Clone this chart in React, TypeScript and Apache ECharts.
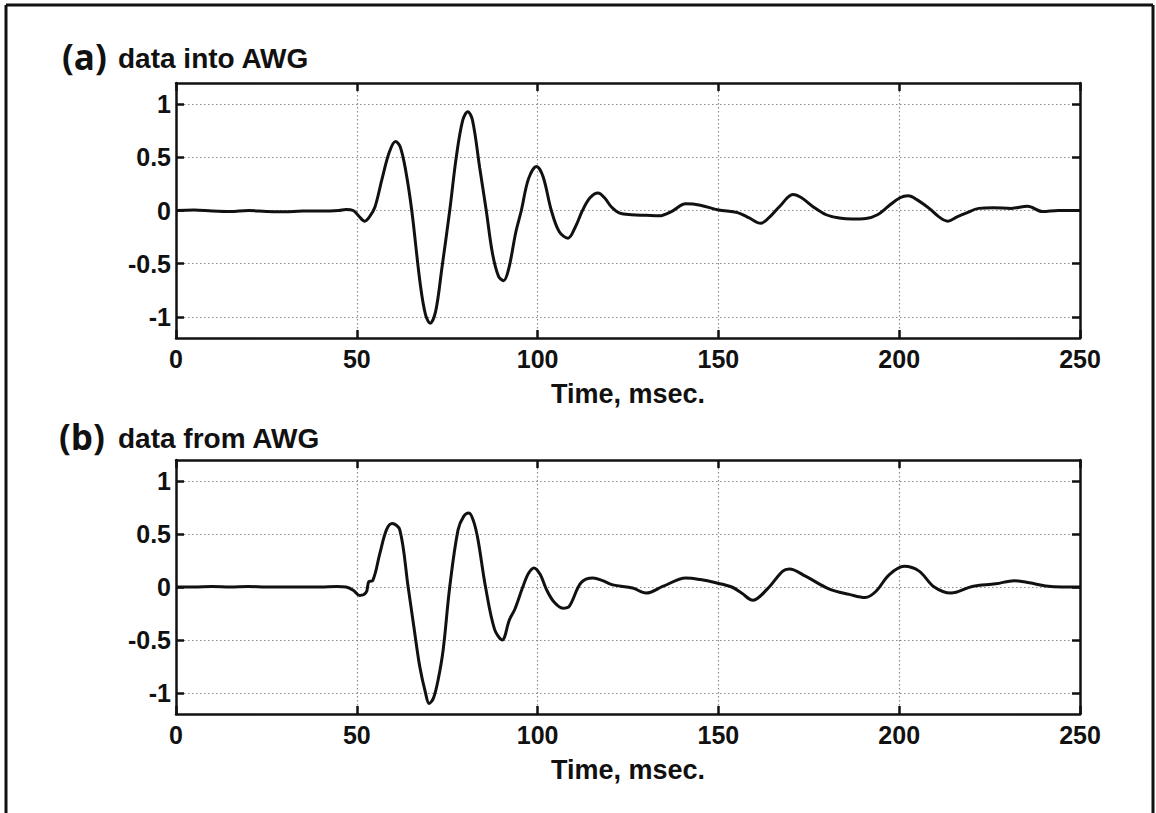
import React, { useEffect, useRef } from "react";
import * as echarts from "echarts";

const X_TICKS = [0, 50, 100, 150, 200, 250];
const Y_TICKS = [-1, -0.5, 0, 0.5, 1];
const X_AXIS_NAME = "Time, msec.";
const PANEL_LETTERS = ["(a)", "(b)"];
const PANEL_TITLES = ["data into AWG", "data from AWG"];

// Panel (a): data into AWG
const timeA = [0, 5, 10, 15, 20, 25, 30, 35, 40, 45, 47, 49, 50.5, 52.2, 53.5, 55, 57, 59, 60.7, 62, 63.5, 65.2, 67.5, 69, 70.3, 71.8, 73.5, 75.7, 77.5, 79.3, 80.7, 82, 84, 85.8, 87.5, 89.2, 90.6, 92, 94, 95.5, 97.5, 99.7, 101.5, 103.8, 106, 108.4, 110.5, 112.4, 114.5, 116.7, 118.5, 120.5, 122.7, 126, 130, 133.7, 137, 141, 145, 150, 155.3, 158.5, 161.7, 164.5, 167, 170.6, 173, 176, 179.8, 183.4, 187, 190.8, 194, 197, 200.2, 202.5, 205, 208.3, 211, 213.4, 216, 218.5, 222, 226, 231, 235.5, 239.6, 244, 250];
const valueA = [0, 0.005, -0.005, -0.01, 0, -0.01, -0.012, -0.005, -0.005, 0, 0.01, 0, -0.05, -0.1, -0.06, 0.03, 0.3, 0.55, 0.65, 0.6, 0.38, 0, -0.68, -0.98, -1.06, -0.95, -0.55, 0, 0.5, 0.85, 0.93, 0.85, 0.4, 0, -0.4, -0.62, -0.66, -0.55, -0.2, 0, 0.3, 0.415, 0.32, 0, -0.2, -0.26, -0.15, 0, 0.12, 0.165, 0.12, 0.03, -0.025, -0.04, -0.045, -0.05, -0.01, 0.063, 0.05, 0.005, -0.02, -0.07, -0.12, -0.05, 0.04, 0.15, 0.12, 0.04, -0.04, -0.07, -0.08, -0.075, -0.04, 0.04, 0.12, 0.14, 0.1, 0.02, -0.06, -0.1, -0.06, -0.025, 0.02, 0.025, 0.02, 0.04, -0.01, 0, 0];

// Panel (b): data from AWG
const timeB = [0, 5, 10, 15, 20, 25, 30, 35, 40, 44.5, 47, 49, 50.8, 52.6, 53.3, 54.4, 56.4, 58.2, 59.8, 61.9, 64.2, 65.8, 67.4, 69, 70, 71.2, 72.5, 73.9, 75.7, 78, 79.6, 81, 82.3, 83.5, 85.6, 88.1, 90.2, 92.2, 93.7, 95.9, 97.5, 99, 100.7, 102.4, 104.5, 107, 108.8, 112, 115.3, 118, 120.8, 126.3, 130, 134.6, 141, 145, 149.3, 153.7, 156.5, 159.5, 163.5, 167.8, 169.6, 174.2, 180.7, 186.2, 190.6, 193.6, 197.2, 201.4, 205.5, 209.7, 214.3, 220.2, 226.7, 231.8, 236, 240.5, 245, 250];
const valueB = [0, 0, 0.005, 0, 0.005, 0, 0, 0, 0, 0.005, 0, -0.03, -0.08, -0.05, 0.05, 0.06, 0.32, 0.54, 0.6, 0.54, 0, -0.38, -0.75, -1.0, -1.1, -1.05, -0.875, -0.59, 0, 0.54, 0.67, 0.7, 0.62, 0.45, 0, -0.4, -0.5, -0.31, -0.21, 0, 0.13, 0.18, 0.12, -0.02, -0.14, -0.2, -0.18, 0.04, 0.085, 0.06, 0.02, -0.01, -0.057, 0.005, 0.085, 0.07, 0.04, 0, -0.06, -0.125, -0.02, 0.15, 0.17, 0.1, -0.02, -0.07, -0.1, -0.04, 0.115, 0.195, 0.15, 0, -0.057, 0.005, 0.03, 0.06, 0.04, 0.01, 0, 0];

const INK = "#111111";
const LABEL_FONT = {
  fontFamily: "Liberation Sans",
  fontWeight: "bold" as const,
  fontSize: 25,
  color: INK,
};

export default function App() {
  const ref = useRef<HTMLDivElement>(null);

  useEffect(() => {
    const chart = echarts.init(ref.current!, null, { renderer: "svg" });
    const grids = [
      { left: 176, top: 83, width: 904, height: 255 },
      { left: 176, top: 460, width: 904, height: 254 },
    ];
    const xAxis: any[] = [];
    const yAxis: any[] = [];
    const axisLine = { show: true, onZero: false, lineStyle: { color: INK, width: 2.5 } };
    const tick = { show: true, inside: true, length: 8, lineStyle: { color: INK, width: 2.5 } };
    const split = { show: true, lineStyle: { color: "#8c8c8c", width: 1.2, type: [1.5, 2.5] } };
    grids.forEach((_, i) => {
      xAxis.push({
        type: "value", gridIndex: i, min: X_TICKS[0], max: X_TICKS[X_TICKS.length - 1], interval: 50,
        position: "bottom", axisLine, axisTick: tick, splitLine: split,
        axisLabel: { ...LABEL_FONT, margin: 8 },
        name: X_AXIS_NAME, nameLocation: "middle", nameGap: 42,
        nameTextStyle: { ...LABEL_FONT, fontSize: 27 },
      });
      xAxis.push({
        type: "value", gridIndex: i, min: X_TICKS[0], max: X_TICKS[X_TICKS.length - 1], interval: 50,
        position: "top", axisLine, axisTick: tick, splitLine: { show: false },
        axisLabel: { show: false },
      });
      yAxis.push({
        type: "value", gridIndex: i, min: -1.2, max: 1.2, position: "left",
        axisLine, axisTick: { ...tick, customValues: Y_TICKS }, splitLine: split,
        axisLabel: { ...LABEL_FONT, margin: 5, customValues: Y_TICKS },
      });
      yAxis.push({
        type: "value", gridIndex: i, min: -1.2, max: 1.2, position: "right",
        axisLine, axisTick: { ...tick, customValues: Y_TICKS }, splitLine: { show: false },
        axisLabel: { show: false, customValues: Y_TICKS },
      });
    });

    const titleY = [56, 436];
    const graphic: any[] = [
      { type: "line", shape: { x1: 6, y1: 5, x2: 1153, y2: 5 }, style: { stroke: INK, lineWidth: 3 } },
      { type: "line", shape: { x1: 6, y1: 5, x2: 6, y2: 813 }, style: { stroke: INK, lineWidth: 3 } },
      { type: "line", shape: { x1: 1153, y1: 5, x2: 1153, y2: 813 }, style: { stroke: INK, lineWidth: 3 } },
    ];
    PANEL_LETTERS.forEach((letter, i) => {
      graphic.push({
        type: "text", x: i === 0 ? 62 : 59, y: titleY[i],
        style: { text: letter, fontFamily: "Open Sans", fontWeight: "bold", fontSize: 35, fill: INK, verticalAlign: "middle" },
      });
      graphic.push({
        type: "text", x: 118, y: titleY[i] + 2,
        style: { text: PANEL_TITLES[i], fontFamily: "Liberation Sans", fontWeight: "bold", fontSize: 28, fill: INK, verticalAlign: "middle" },
      });
    });

    const lineSeries = (t: number[], v: number[], idx: number) => ({
      type: "line",
      xAxisIndex: idx * 2,
      yAxisIndex: idx * 2,
      data: t.map((x, k) => [x, v[k]]),
      showSymbol: false,
      smooth: 0.35,
      lineStyle: { color: INK, width: 3 },
    });

    chart.setOption({
      animation: false,
      backgroundColor: "#ffffff",
      grid: grids.map((g) => ({ ...g, containLabel: false })),
      xAxis,
      yAxis,
      graphic,
      series: [lineSeries(timeA, valueA, 0), lineSeries(timeB, valueB, 1)],
    });
    return () => chart.dispose();
  }, []);

  return (
    <div
      ref={ref}
      style={{ position: "fixed", left: 0, top: 0, width: 1156, height: 813, background: "#fff" }}
    />
  );
}
